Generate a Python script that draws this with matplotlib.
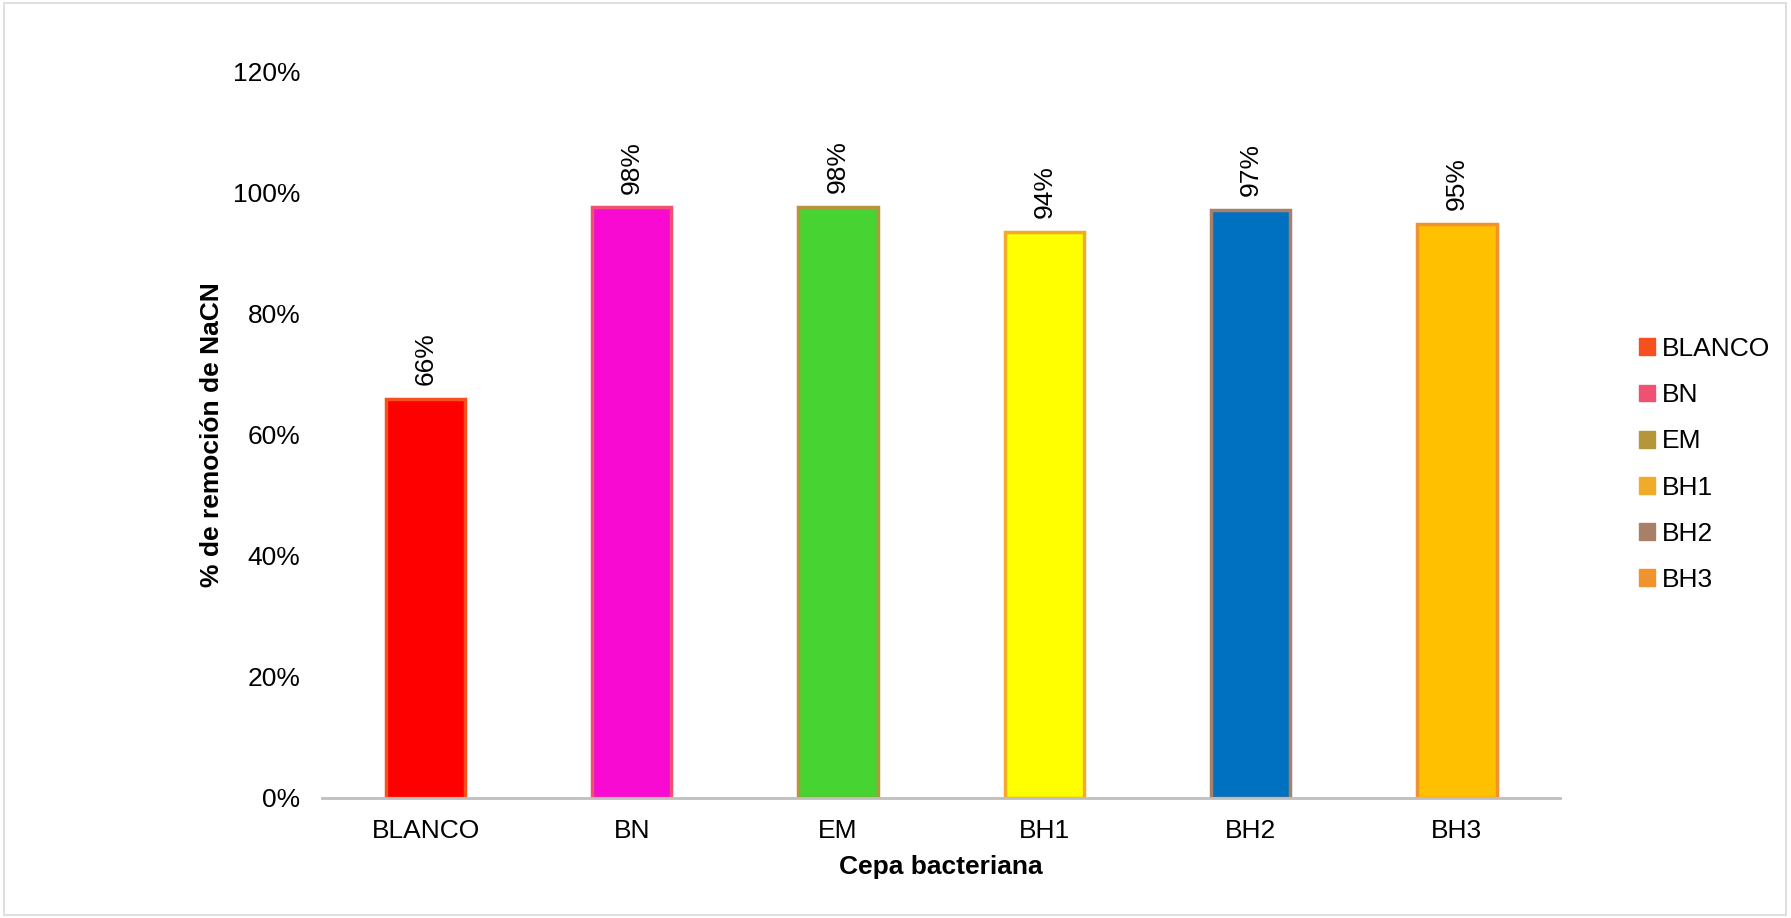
import matplotlib.pyplot as plt
from matplotlib.patches import Patch, Rectangle
from matplotlib.ticker import PercentFormatter

plt.rcParams['font.family'] = ['Liberation Sans', 'DejaVu Sans']

cepas = ["BLANCO", "BN", "EM", "BH1", "BH2", "BH3"]
remocion = [0.660, 0.976, 0.977, 0.936, 0.972, 0.948]
relleno = ["#FF0000", "#F80AD2", "#47D332", "#FFFF00", "#0070C0", "#FFC000"]
borde = ["#F5501E", "#EE5270", "#B5963A", "#F0AC28", "#A88068", "#F0922E"]

fig = plt.figure(figsize=(17.91, 9.18), dpi=100)
ax = fig.add_axes([0.18, 0.131, 0.691, 0.7906])

x = range(len(cepas))
bars = ax.bar(x, remocion, width=0.385, color=relleno, edgecolor=borde, linewidth=2.5)

for b, v in zip(bars, remocion):
    ax.annotate(f"{v:.0%}", (b.get_x() + b.get_width() / 2, v),
                xytext=(0, 10), textcoords="offset points",
                rotation=90, ha="center", va="bottom", fontsize=19)

ax.set_xlim(-0.5, len(cepas) - 0.5)
ax.set_ylim(0, 1.2)
ax.set_yticks([0, 0.2, 0.4, 0.6, 0.8, 1.0, 1.2])
ax.yaxis.set_major_formatter(PercentFormatter(1.0, decimals=0))
ax.set_xticks(list(x))
ax.set_xticklabels(cepas)
ax.tick_params(axis="both", length=0, labelsize=19)
ax.tick_params(axis="x", pad=15)
ax.tick_params(axis="y", pad=16)

for s in ["top", "right", "left"]:
    ax.spines[s].set_visible(False)
ax.spines["bottom"].set_color("#BFBFBF")
ax.spines["bottom"].set_linewidth(2)

ax.set_ylabel("% de remoción de NaCN", fontsize=19, fontweight="bold", labelpad=6)
ax.set_xlabel("Cepa bacteriana", fontsize=19, fontweight="bold", labelpad=9)

handles = [Patch(facecolor=c, edgecolor=c) for c in borde]
fig.legend(handles, cepas, loc="center left", bbox_to_anchor=(0.902, 0.494),
           frameon=False, fontsize=19, handlelength=0.6, handleheight=0.6,
           handletextpad=0.25, labelspacing=0.84)

# chart area border
fig.add_artist(Rectangle((0.002, 0.003), 0.995, 0.994, transform=fig.transFigure,
                         fill=False, edgecolor="#D9D9D9", linewidth=1.2))

fig.savefig("out.png", dpi=100)
